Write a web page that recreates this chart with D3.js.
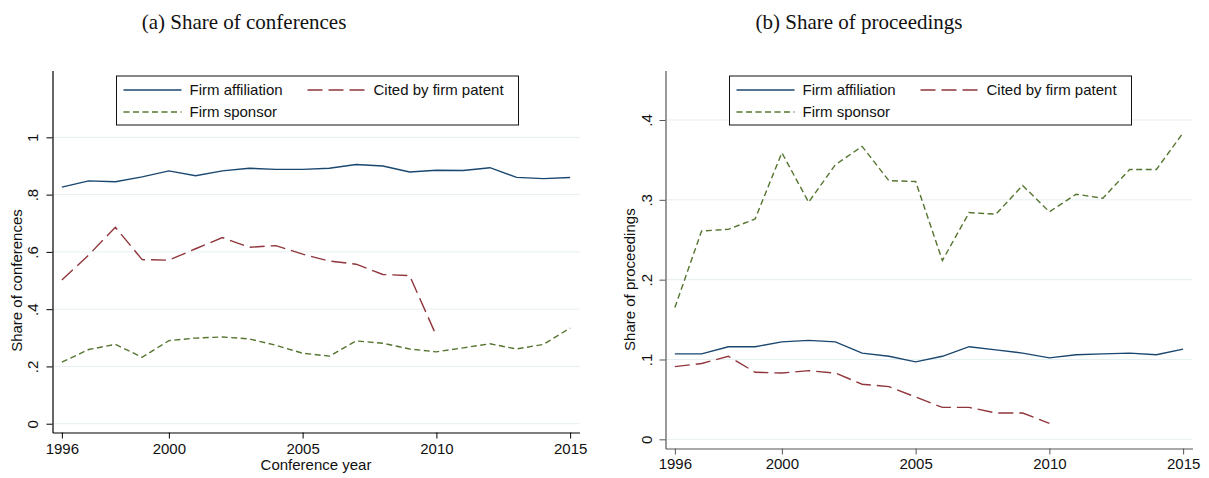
<!DOCTYPE html>
<html>
<head>
<meta charset="utf-8">
<script src="https://cdn.jsdelivr.net/npm/d3@7"></script>
<style>
  body { margin: 0; background: #fff; }
  svg { display: block; }
</style>
</head>
<body>
<svg id="chart" width="1209" height="478"></svg>
<script>
// Data
const years = d3.range(1996, 2016);
const citedYears = d3.range(1996, 2011);

const confAffiliation = [.826, .848, .845, .862, .883, .866, .883, .892, .888, .888,
  .892, .905, .900, .879, .885, .884, .894, .860, .856, .860];
const confCited = [.502, .589, .686, .573, .571, .611, .650, .616, .622, .592,
  .568, .557, .521, .517, .307];
const confSponsor = [.215, .259, .277, .232, .290, .299, .303, .296, .274, .246,
  .236, .289, .281, .261, .251, .265, .279, .261, .277, .334];

const procAffiliation = [.107, .107, .116, .116, .122, .124, .122, .108, .104, .097,
  .104, .116, .112, .108, .102, .106, .107, .108, .106, .113];
const procCited = [.091, .095, .104, .084, .083, .086, .083, .069, .066, .053,
  .040, .040, .033, .033, .020];
const procSponsor = [.165, .261, .263, .276, .359, .297, .344, .367, .324, .323,
  .224, .284, .282, .318, .285, .307, .302, .338, .338, .384];

const xTicks = [1996, 2000, 2005, 2010, 2015];
const confTicks = [0, .2, .4, .6, .8, 1];
const procTicks = [0, .1, .2, .3, .4];
const seriesNames = ['Firm affiliation', 'Cited by firm patent', 'Firm sponsor'];

const navy = '#1a476f', maroon = '#90353b', green = '#55752f';
const sansFont = '"Liberation Sans", Arial, sans-serif';

let svg = d3.select('#chart');

let fmtTick = d => d === 0 ? '0' : d === 1 ? '1' : d3.format('.1f')(d).replace(/^0/, '');

let drawPanel = function(p) {
  let g = svg.append('g');

  let x = d3.scaleLinear().domain([1995.65, 2015.35]).range([p.left, p.right]);
  let y = d3.scaleLinear().domain(p.yDomain).range([p.bottom, p.top]);

  // gridlines
  g.selectAll('.grid')
    .data(p.yTicks)
    .enter()
    .append('line')
      .attr('x1', p.left)
      .attr('x2', p.right)
      .attr('y1', d => y(d))
      .attr('y2', d => y(d))
      .attr('stroke', '#e6eff1')
      .attr('stroke-width', 1);

  // series
  let series = [
    { name: seriesNames[0], xs: years, vals: p.affiliation, color: navy, dash: null },
    { name: seriesNames[1], xs: citedYears, vals: p.cited, color: maroon, dash: '15 6' },
    { name: seriesNames[2], xs: years, vals: p.sponsor, color: green, dash: '6 3.5' }
  ];

  let line = d3.line()
    .x(d => x(d[0]))
    .y(d => y(d[1]));

  series.forEach(s => {
    g.append('path')
      .datum(s.xs.map((yr, i) => [yr, s.vals[i]]))
      .attr('d', line)
      .attr('fill', 'none')
      .attr('stroke', s.color)
      .attr('stroke-width', 1.4)
      .attr('stroke-dasharray', s.dash);
  });

  // y axis
  let yAxis = g.append('g')
    .attr('transform', 'translate(' + p.left + ',0)')
    .call(d3.axisLeft(y).tickValues(p.yTicks).tickFormat(fmtTick).tickSize(6).tickSizeOuter(0));

  yAxis.selectAll('text')
    .attr('x', 0)
    .attr('y', -p.yLabelOffset)
    .attr('dy', 0)
    .attr('text-anchor', 'middle')
    .attr('transform', 'rotate(-90)');

  // x axis
  let xAxis = g.append('g')
    .attr('transform', 'translate(0,' + p.bottom + ')')
    .call(d3.axisBottom(x).tickValues(xTicks).tickFormat(d3.format('d')).tickSize(6).tickSizeOuter(0).tickPadding(p.xPad));

  [yAxis, xAxis].forEach(ax => {
    ax.select('.domain').attr('stroke', p.axisColor).attr('stroke-width', 1.2);
    ax.selectAll('.tick line').attr('stroke', p.axisColor);
    ax.selectAll('text')
      .attr('fill', '#111')
      .style('font-family', sansFont)
      .style('font-size', '15px');
  });

  // axis titles
  g.append('text')
    .attr('transform', 'translate(' + p.yTitleX + ',' + ((y(0) + y(p.yTitleMid)) / 2) + ') rotate(-90)')
    .attr('text-anchor', 'middle')
    .attr('dy', '.35em')
    .style('font-family', sansFont)
    .style('font-size', '15px')
    .attr('fill', '#111')
    .text(p.yTitle);

  if (p.xTitle) {
    g.append('text')
      .attr('x', (p.left + p.right) / 2)
      .attr('y', 470)
      .attr('text-anchor', 'middle')
      .style('font-family', sansFont)
      .style('font-size', '15px')
      .attr('fill', '#111')
      .text(p.xTitle);
  }

  // legend
  let lg = g.append('g').attr('transform', 'translate(' + p.legendX + ',76)');
  lg.append('rect')
    .attr('width', 402)
    .attr('height', 49)
    .attr('fill', '#fff')
    .attr('stroke', '#111')
    .attr('stroke-width', 1);

  let slots = [[7, 14], [191, 14], [7, 36]];
  series.forEach((s, i) => {
    let item = lg.append('g').attr('transform', 'translate(' + slots[i][0] + ',' + slots[i][1] + ')');
    item.append('line')
      .attr('x1', 0).attr('x2', 58)
      .attr('stroke', s.color)
      .attr('stroke-width', 1.4)
      .attr('stroke-dasharray', s.dash);
    item.append('text')
      .attr('x', 66)
      .attr('dy', '.35em')
      .style('font-family', sansFont)
      .style('font-size', '15px')
      .attr('fill', '#111')
      .text(s.name);
  });

  // panel caption
  svg.append('text')
    .attr('x', p.captionX)
    .attr('y', 29)
    .attr('text-anchor', 'middle')
    .style('font-family', '"Liberation Serif", "DejaVu Serif", serif')
    .style('font-size', '21px')
    .attr('fill', '#111')
    .text(p.caption);
};

drawPanel({
  caption: '(a) Share of conferences', captionX: 244,
  left: 52.5, right: 579.5, top: 70.5, bottom: 432.5,
  yDomain: [-0.0307, 1.2334], yTicks: confTicks,
  affiliation: confAffiliation, cited: confCited, sponsor: confSponsor,
  yLabelOffset: 14.5, xPad: 5, axisColor: '#000',
  yTitle: 'Share of conferences', yTitleX: 17, yTitleMid: 1,
  xTitle: 'Conference year', legendX: 116.5
});

drawPanel({
  caption: '(b) Share of proceedings', captionX: 859,
  left: 665.5, right: 1192.5, top: 70.5, bottom: 448.5,
  yDomain: [-0.0115, 0.4620], yTicks: procTicks,
  affiliation: procAffiliation, cited: procCited, sponsor: procSponsor,
  yLabelOffset: 13.3, xPad: 4, axisColor: '#555',
  yTitle: 'Share of proceedings', yTitleX: 630, yTitleMid: 0.4,
  xTitle: null, legendX: 729.5
});
</script>
</body>
</html>
